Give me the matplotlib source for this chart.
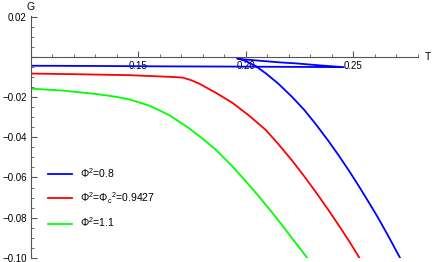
import numpy as np
import matplotlib.pyplot as plt
from matplotlib.ticker import MultipleLocator, FixedLocator

plt.rcParams['font.family'] = ['Liberation Sans', 'DejaVu Sans']
plt.rcParams['mathtext.fontset'] = 'custom'
plt.rcParams['mathtext.rm'] = 'Liberation Sans'
plt.rcParams['mathtext.it'] = 'Liberation Sans:italic'

# Phi^2 = 0.8 (swallowtail: small branch -> intermediate -> large branch)
t_blue = [0.100, 0.130, 0.160, 0.190, 0.210, 0.230, 0.2455,
          0.2330, 0.2230, 0.2168, 0.2075, 0.1990, 0.1958,
          0.2000, 0.2045, 0.2091, 0.2150, 0.2214, 0.2270, 0.2323, 0.2380,
          0.2431, 0.2480, 0.2523, 0.2570, 0.2616, 0.2665, 0.2716]
g_blue = [-0.0043, -0.0044, -0.0046, -0.0047, -0.0048, -0.0049, -0.0050,
          -0.0040, -0.0031, -0.0027, -0.0019, -0.0011, -0.0006,
          -0.0020, -0.0045, -0.0080, -0.0132, -0.0198, -0.0262, -0.0332, -0.0413,
          -0.0490, -0.0568, -0.0640, -0.0722, -0.0804, -0.0898, -0.1000]

# Phi^2 = Phi_c^2 = 0.9427
t_red = [0.100, 0.1200, 0.1458, 0.1640, 0.1705, 0.1745, 0.1782, 0.1860, 0.1937,
         0.2010, 0.2091, 0.2150, 0.2214, 0.2270, 0.2323, 0.2380, 0.2431, 0.2480, 0.2527]
g_red = [-0.0082, -0.0085, -0.0090, -0.0098, -0.0102, -0.0115, -0.0132, -0.0178, -0.0228,
         -0.0288, -0.0362, -0.0433, -0.0515, -0.0593, -0.0670, -0.0757, -0.0838, -0.0918, -0.1000]

# Phi^2 = 1.1
t_green = [0.100, 0.1150, 0.1304, 0.1397, 0.1458, 0.1551, 0.1644, 0.1736,
           0.1800, 0.1860, 0.1937, 0.2000, 0.2060, 0.2115, 0.2168, 0.2225, 0.2284]
g_green = [-0.0157, -0.0167, -0.0184, -0.0198, -0.0211, -0.0242, -0.0290, -0.0355,
           -0.0408, -0.0462, -0.0545, -0.0620, -0.0695, -0.0766, -0.0838, -0.0918, -0.1000]

labels = [r"Φ$^2$=0.8", r"Φ$^2$=Φ$_\mathrm{c}$$^2$=0.9427", r"Φ$^2$=1.1"]

fig = plt.figure(figsize=(4.36, 2.62), dpi=100)
ax = fig.add_axes([0.0711, 0.0164, 0.8876, 0.9225])

ax.plot(t_blue, g_blue, color=(0, 0, 1), lw=1.3, label=labels[0])
ax.plot(t_red, g_red, color=(1, 0, 0), lw=1.3, label=labels[1])
ax.plot(t_green, g_green, color=(0, 1, 0), lw=1.3, label=labels[2])

ax.set_xlim(0.10, 0.28)
ax.set_ylim(-0.10, 0.0205)

for s in ['top', 'right']:
    ax.spines[s].set_visible(False)
ax.spines['bottom'].set_position(('data', 0))
for s in ['left', 'bottom']:
    ax.spines[s].set_color('#555555')
    ax.spines[s].set_linewidth(0.8)

ax.xaxis.set_major_locator(FixedLocator([0.10, 0.15, 0.20, 0.25]))
ax.xaxis.set_minor_locator(MultipleLocator(0.01))
ax.set_xticklabels(['', '0.15', '0.20', '0.25'])
ax.yaxis.set_major_locator(FixedLocator([0.02, 0.0, -0.02, -0.04, -0.06, -0.08, -0.10]))
ax.yaxis.set_minor_locator(MultipleLocator(0.005))
ax.set_yticklabels(['0.02', '', '\u22120.02', '\u22120.04', '\u22120.06', '\u22120.08', '\u22120.10'])

ax.tick_params(which='both', direction='in', color='#555555', labelsize=7)
ax.tick_params(which='major', length=4, width=0.8, pad=3)
ax.tick_params(which='minor', length=2.5, width=0.6)

ax.text(0.10, 0.0225, 'G', fontsize=7.5, ha='center', va='bottom')
ax.text(0.283, 0.0, 'T', fontsize=7.5, ha='left', va='center')

ax.legend(loc='upper left', bbox_to_anchor=(0.044, 0.378), frameon=False,
          fontsize=7.5, handlelength=2.3, handletextpad=0.8, labelspacing=0.95,
          borderpad=0, borderaxespad=0)

fig.savefig('out.png', dpi=100)
